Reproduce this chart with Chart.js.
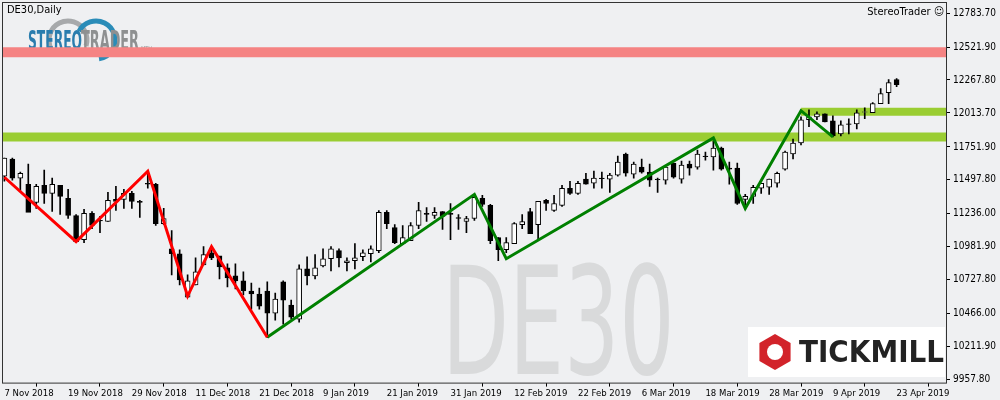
<!DOCTYPE html>
<html>
<head>
<meta charset="utf-8">
<script src="https://cdn.jsdelivr.net/npm/chart.js@4"></script>
<style>
  body { margin: 0; background: #eff0f2; }
  #wrap { width: 1000px; height: 400px; position: relative; }
</style>
</head>
<body>
<div id="wrap"><canvas id="chart"></canvas></div>
<script>
// daily DE30 candles, 7 Nov 2018 .. 24 Apr 2019 (bar index = trading day)
let opens  = [11526,11658,11511,11464,11324,11456,11394,11456,11355,11223,11037,11239,11185,11177,11348,11348,11394,11332,11472,11464,11161,10967,10928,10594,10688,10843,10936,10913,10820,10758,10719,10641,10618,10641,10470,10711,10532,10424,10812,10758,10835,10890,10952,10859,10874,10905,10928,10952,11247,11130,11006,11029,11146,11239,11223,11254,11239,11208,11177,11200,11355,11301,11053,10959,11006,11153,11254,11153,11340,11262,11301,11433,11394,11503,11472,11511,11503,11534,11697,11542,11596,11557,11503,11495,11627,11503,11619,11596,11681,11674,11743,11588,11588,11348,11371,11433,11441,11472,11580,11697,11782,11961,11984,12007,11953,11852,11930,11930,12019,12015,12085,12170,12271];
let highs  = [11666,11666,11557,11619,11464,11573,11511,11456,11425,11231,11270,11254,11216,11402,11448,11425,11410,11340,11565,11472,11278,11107,10959,10765,10897,10983,10983,10890,10851,10851,10789,10703,10664,10711,10626,10719,10571,10843,10905,10921,10967,10983,10967,10897,11006,10959,10990,11262,11262,11153,11146,11169,11324,11285,11285,11254,11316,11231,11216,11386,11379,11309,11053,11053,11169,11231,11278,11332,11348,11379,11456,11487,11487,11549,11565,11557,11549,11681,11705,11635,11658,11619,11511,11596,11627,11643,11643,11728,11712,11798,11751,11635,11627,11386,11456,11464,11503,11557,11720,11813,11984,12038,12023,12007,11992,11953,11969,12038,12054,12093,12201,12271,12279];
let lows   = [11487,11495,11410,11309,11278,11316,11254,11231,11200,11014,11014,11122,11091,11177,11262,11278,11278,11208,11433,11146,11153,10765,10688,10594,10688,10843,10882,10734,10672,10657,10610,10501,10501,10284,10416,10385,10424,10400,10688,10734,10827,10796,10827,10796,10812,10874,10866,10936,11122,11006,10998,11029,11122,11177,11200,11115,11037,11115,11091,11185,11293,11006,10874,10936,11006,11122,11091,11045,11262,11254,11293,11386,11386,11464,11433,11433,11402,11526,11526,11511,11549,11448,11402,11464,11511,11472,11534,11580,11650,11573,11573,11464,11309,11270,11317,11394,11386,11441,11573,11659,11767,11907,11961,11945,11829,11837,11852,11891,11969,12015,12085,12085,12217];
let closes = [11666,11511,11549,11247,11448,11394,11464,11371,11223,11022,11239,11146,11181,11340,11332,11394,11332,11324,11464,11161,11200,10928,10726,10719,10789,10921,10897,10827,10742,10719,10641,10618,10525,10470,10579,10571,10439,10812,10758,10820,10890,10967,10897,10874,10897,10936,10967,11247,11161,11014,11053,11146,11262,11231,11247,11216,11231,11200,11200,11363,11309,11029,10959,11014,11161,11177,11084,11332,11316,11316,11433,11394,11472,11464,11511,11507,11534,11635,11549,11619,11557,11495,11499,11596,11518,11612,11588,11697,11677,11743,11580,11580,11316,11371,11441,11472,11503,11549,11712,11782,11961,11984,12007,11945,11837,11922,11926,12015,12019,12085,12163,12248,12232];
let dateLabels = ["7 Nov 2018","19 Nov 2018","29 Nov 2018","11 Dec 2018","21 Dec 2018","9 Jan 2019","21 Jan 2019","31 Jan 2019","12 Feb 2019","22 Feb 2019","6 Mar 2019","18 Mar 2019","28 Mar 2019","9 Apr 2019","23 Apr 2019"];
let priceTicks = [12783.70,12521.90,12267.80,12013.70,11751.90,11497.80,11236.00,10981.90,10727.80,10466.00,10211.90,9957.80];
// swing lines (bar index, price)
let redSwingBars   = [0, 9, 18, 23, 26, 33];
let redSwingPrices = [11518, 11022, 11565, 10602, 10983, 10284];
let greenSwingBars   = [33, 59, 63, 89, 93, 100, 104];
let greenSwingPrices = [10284, 11386, 10890, 11821, 11278, 12031, 11829];
// horizontal levels
let resistanceLevel = 12481;
let supportLevel = 11829;
let upperSupportLevel = 12023;

let wicks = [], bodies = [], bodyFill = [];
for (let i = 0; i < opens.length; i++) {
    wicks.push({x: i, y: [lows[i], highs[i]]});
    let lo = Math.min(opens[i], closes[i]), hi = Math.max(opens[i], closes[i]);
    if (hi - lo < 4) hi = lo + 4;
    bodies.push({x: i, y: [lo, hi]});
    bodyFill.push(closes[i] >= opens[i] ? "#ffffff" : "#000000");
}
let redPts = redSwingBars.map((b, i) => ({x: b, y: redSwingPrices[i]}));
let greenPts = greenSwingBars.map((b, i) => ({x: b, y: greenSwingPrices[i]}));

const decor = {
    id: "decor",
    beforeDatasetsDraw(chart) {
        let c = chart.ctx;
        c.save();
        // watermark
        c.fillStyle = "#d9dadb";
        c.font = "150px 'DejaVu Sans'";
        c.textBaseline = "alphabetic";
        c.save();
        c.translate(442, 374);
        c.scale(0.58, 1);
        c.fillText("DE30", 0, 0);
        c.restore();
        // stereotrader logo
        c.lineWidth = 5;
        c.strokeStyle = "#a7a9ab";
        c.beginPath(); c.arc(68, 40, 19, Math.PI * 0.85, Math.PI * 2.1); c.stroke();
        c.strokeStyle = "#2a8cb8";
        c.beginPath(); c.arc(96, 40, 19, Math.PI * 1.15, Math.PI * 2.45); c.stroke();
        c.font = "bold 27px 'DejaVu Sans Condensed'";
        c.fillStyle = "#2a7dae";
        c.fillText("STEREO", 28, 50, 54);
        c.fillStyle = "#8e9091";
        c.fillText("TRADER", 81, 50, 58);
        c.font = "5px 'DejaVu Sans'";
        c.fillText("MTH", 141, 50);
        c.restore();
    },
    afterDatasetsDraw(chart) {
        let c = chart.ctx, a = chart.chartArea;
        c.save();
        c.fillStyle = "#000";
        c.font = "11px 'DejaVu Sans Condensed'";
        c.textBaseline = "top";
        c.fillText("DE30,Daily", 7, 5);
        c.textAlign = "right";
        c.fillText("StereoTrader \u263A", 944, 7);
        // tickmill box
        c.fillStyle = "#ffffff";
        c.fillRect(748, 327, 197, 50);
        c.fillStyle = "#d2232a";
        c.beginPath();
        let cx = 775, cy = 352, r = 18;
        for (let k = 0; k < 6; k++) {
            let ang = Math.PI / 6 + k * Math.PI / 3;
            c[k ? "lineTo" : "moveTo"](cx + r * Math.cos(ang), cy + r * Math.sin(ang));
        }
        c.closePath(); c.fill();
        c.fillStyle = "#ffffff";
        c.beginPath(); c.arc(cx, cy, 8, 0, Math.PI * 2); c.fill();
        c.fillStyle = "#222";
        c.font = "bold 30px 'DejaVu Sans'";
        c.textAlign = "left";
        c.textBaseline = "middle";
        c.fillText("TICKMILL", 799, 354, 145);
        // frame
        c.strokeStyle = "#333";
        c.lineWidth = 1;
        c.strokeRect(a.left + 0.5, a.top + 0.5, a.right - a.left, a.bottom - a.top);
        c.restore();
    }
};

new Chart(document.getElementById("chart"), {
    data: {
        datasets: [
            {type: "line", data: [{x: -1, y: resistanceLevel}, {x: 125, y: resistanceLevel}], borderColor: "#f58383", borderWidth: 10, pointRadius: 0, order: 5},
            {type: "line", data: [{x: -1, y: supportLevel}, {x: 125, y: supportLevel}], borderColor: "#9acd32", borderWidth: 9, pointRadius: 0, order: 5},
            {type: "line", data: [{x: 100, y: upperSupportLevel}, {x: 125, y: upperSupportLevel}], borderColor: "#9acd32", borderWidth: 8, pointRadius: 0, order: 5},
            {type: "bar", data: wicks, backgroundColor: "#000", barThickness: 1, grouped: false, order: 3},
            {type: "bar", data: bodies, backgroundColor: bodyFill, borderColor: "#000", borderWidth: 1, borderSkipped: false, barThickness: 5, grouped: false, order: 2},
            {type: "line", data: redPts, borderColor: "#ff0000", borderWidth: 3, pointRadius: 0, tension: 0, order: 1},
            {type: "line", data: greenPts, borderColor: "#008000", borderWidth: 3, pointRadius: 0, tension: 0, order: 1}
        ]
    },
    options: {
        responsive: true,
        maintainAspectRatio: false,
        animation: false,
        layout: {padding: {top: 2, left: 2, right: 4}},
        plugins: {legend: {display: false}, tooltip: {enabled: false}},
        scales: {
            x: {
                type: "linear", min: -0.3, max: 118.2, offset: false,
                grid: {drawOnChartArea: false, tickLength: 4, color: "#000"},
                border: {display: false},
                afterBuildTicks: s => { s.ticks = dateLabels.map((d, i) => ({value: i * 8})); },
                afterFit: s => { s.paddingLeft = 0; s.paddingRight = 0; },
                ticks: {align: "start", maxRotation: 0, autoSkip: false, color: "#000", padding: 1,
                        font: {family: "'DejaVu Sans Condensed'", size: 9.5},
                        callback: (v) => dateLabels[Math.round(v / 8)]}
            },
            y: {
                position: "right", min: 9935, max: 12869,
                grid: {drawOnChartArea: false, tickLength: 4, color: "#000"},
                border: {display: false},
                afterBuildTicks: s => { s.ticks = priceTicks.map(v => ({value: v})); },
                afterFit: s => { s.width = 50; s.paddingTop = 0; s.paddingBottom = 0; },
                ticks: {color: "#000", padding: 3, font: {family: "'DejaVu Sans Condensed'", size: 10},
                        callback: v => v.toFixed(2)}
            }
        }
    },
    plugins: [decor]
});
</script>
</body>
</html>
